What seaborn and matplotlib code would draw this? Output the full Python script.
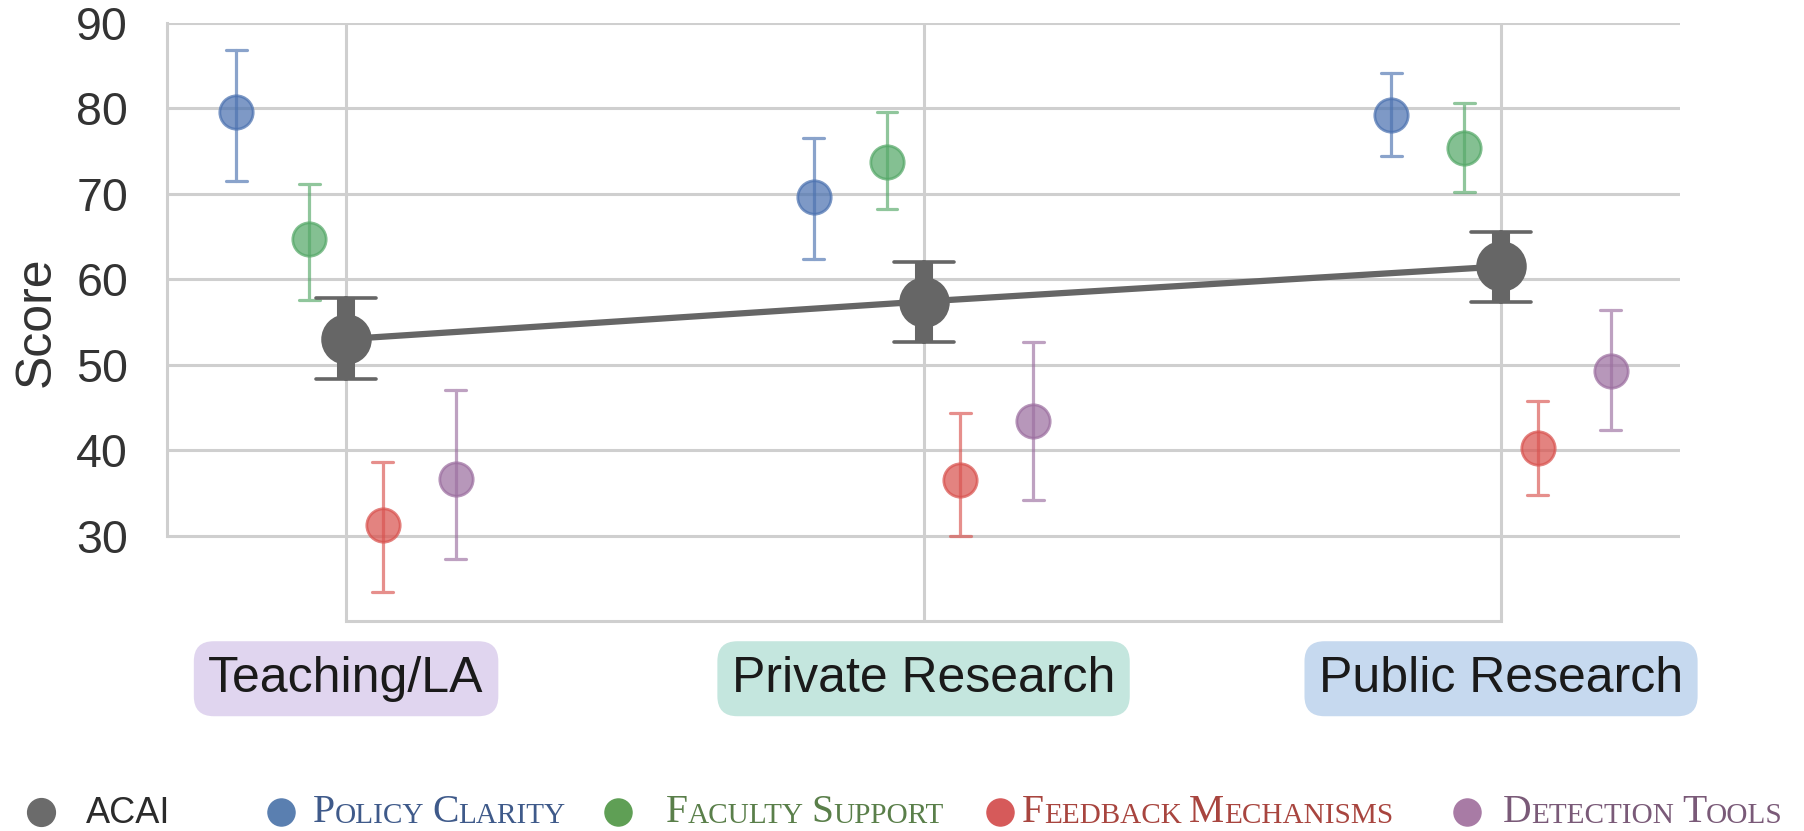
import numpy as np
import pandas as pd
import matplotlib
matplotlib.use("Agg")
import matplotlib.pyplot as plt
import seaborn as sns
from matplotlib.lines import Line2D

# Values (centre, lower and upper end of each error bar)
institutions = ["Teaching/LA", "Private Research", "Public Research"]
dimensions = ["Policy Clarity", "Faculty Support", "Feedback Mechanisms", "Detection Tools"]

acai_mean = [53.0, 57.4, 61.5]
acai_low = [48.3, 52.7, 57.4]
acai_high = [57.8, 62.0, 65.5]

policy_mean = [79.6, 69.6, 79.2]
policy_low = [71.5, 62.4, 74.4]
policy_high = [86.9, 76.5, 84.2]

faculty_mean = [64.7, 73.7, 75.4]
faculty_low = [57.6, 68.2, 70.2]
faculty_high = [71.1, 79.6, 80.6]

feedback_mean = [31.2, 36.5, 40.3]
feedback_low = [23.4, 30.0, 34.7]
feedback_high = [38.6, 44.3, 45.7]

detection_mean = [36.6, 43.4, 49.3]
detection_low = [27.2, 34.2, 42.4]
detection_high = [47.0, 52.7, 56.4]

yticks = [30, 40, 50, 60, 70, 80, 90]

dim_colors = ["#4c72b0", "#55a868", "#d9534f", "#9c6fa0"]
box_colors = ["#e0d5ef", "#c4e6de", "#c6d9ef"]
legend_marker_colors = ["#6b6b6b", "#5a7fb0", "#5f9f55", "#d65a5a", "#a87ba5"]
legend_text_colors = ["#2b2b2b", "#3f5a8a", "#5a7f4a", "#a8453f", "#7a5a78"]


def long_rows(name, mean, low, high):
    rows = []
    for inst, m, lo, hi in zip(institutions, mean, low, high):
        for v in (lo, m, hi):
            rows.append({"institution": inst, "series": name, "score": v})
    return rows


acai_df = pd.DataFrame(long_rows("ACAI", acai_mean, acai_low, acai_high))
dims_df = pd.DataFrame(
    long_rows("Policy Clarity", policy_mean, policy_low, policy_high)
    + long_rows("Faculty Support", faculty_mean, faculty_low, faculty_high)
    + long_rows("Feedback Mechanisms", feedback_mean, feedback_low, feedback_high)
    + long_rows("Detection Tools", detection_mean, detection_low, detection_high)
)


def span(v):
    return (v.min(), v.max())


sns.set_theme(style="whitegrid")
plt.rcParams["font.family"] = ["Liberation Sans", "DejaVu Sans"]

fig = plt.figure(figsize=(18.04, 8.31), dpi=100)
ax = fig.add_axes([0.0926, 0.2527, 0.8387, 0.7196])

# dimension scores, dodged around each institution
sns.pointplot(data=dims_df, x="institution", y="score", hue="series",
              order=institutions, hue_order=dimensions, palette=dim_colors,
              estimator="median", errorbar=span, dodge=0.38, linestyle="none",
              markersize=24, capsize=0.036, alpha=0.72, legend=False,
              err_kws={"linewidth": 2.3, "alpha": 0.65}, ax=ax)

# ACAI: thin caps, then thick bars with markers and connecting line
sns.pointplot(data=acai_df, x="institution", y="score", order=institutions,
              color="#666666", estimator="median", errorbar=span,
              linestyle="none", markersize=0, capsize=0.104,
              err_kws={"linewidth": 2.6}, ax=ax)
sns.pointplot(data=acai_df, x="institution", y="score", order=institutions,
              color="#666666", estimator="median", errorbar=span,
              markersize=33, linewidth=4.5, capsize=0,
              err_kws={"linewidth": 13, "solid_capstyle": "butt"}, ax=ax)

ax.set_xlim(-0.31, 2.31)
ax.set_ylim(20, 90)
ax.set_yticks(yticks)
ax.grid(True, color="#cfcfcf", linewidth=2.2)
ax.set_axisbelow(True)
for side in ["top", "right"]:
    ax.spines[side].set_visible(False)
ax.spines["left"].set_bounds(30, 90)
ax.spines["bottom"].set_bounds(0, 2)
for side in ["left", "bottom"]:
    ax.spines[side].set_color("#cfcfcf")
    ax.spines[side].set_linewidth(2.2)

ax.tick_params(axis="y", length=0, pad=28, labelsize=33.5, labelcolor="#333333")
ax.tick_params(axis="x", length=0, pad=25, labelsize=36, labelcolor="#1a1a1a")
ax.set_xlabel("")
ax.set_ylabel("Score", fontsize=36, color="#333333", labelpad=12)

for lbl, c in zip(ax.get_xticklabels(), box_colors):
    lbl.set_bbox(dict(boxstyle="round,pad=0.29,rounding_size=0.4", fc=c, ec="none"))


# legend along the bottom edge, serif small caps for the dimensions
def small_caps(x, y, text, color, size):
    small = size * 0.74
    prev = None
    for i, word in enumerate(text.split()):
        for j, (s, fs) in enumerate([(word[0], size), (word[1:].upper(), small)]):
            if prev is None:
                prev = fig.text(x, y, s, fontsize=fs, color=color,
                                family="Liberation Serif", va="bottom")
                continue
            if j == 1:
                dx, dy = 0, 0.22 * (size - small)
            else:
                # previous part was small: add a space, back to the shared baseline
                dx, dy = 0.25 * small, -0.22 * (size - small)
            prev = ax.annotate(s, xy=(1, 0), xycoords=prev, xytext=(dx, dy),
                               textcoords="offset points", fontsize=fs,
                               color=color, family="Liberation Serif",
                               va="bottom", ha="left", annotation_clip=False)


marker_x = [41, 281, 618, 1000, 1467]
text_x = [86, 313, 666, 1022, 1503]
labels = ["ACAI"] + dimensions
W, H = 1804, 831
for i, (mx, tx, lab) in enumerate(zip(marker_x, text_x, labels)):
    fig.add_artist(Line2D([mx / W], [1 - 812 / H], transform=fig.transFigure,
                          marker="o", markersize=20 if i == 0 else 19.5,
                          color=legend_marker_colors[i], linestyle="none"))
    if i == 0:
        fig.text(tx / W, 1 - 823 / H, lab, fontsize=26, color=legend_text_colors[i],
                 va="baseline")
    else:
        small_caps(tx / W, 1 - 831 / H, lab, legend_text_colors[i], 28.5)

fig.savefig("out.png", dpi=100)
